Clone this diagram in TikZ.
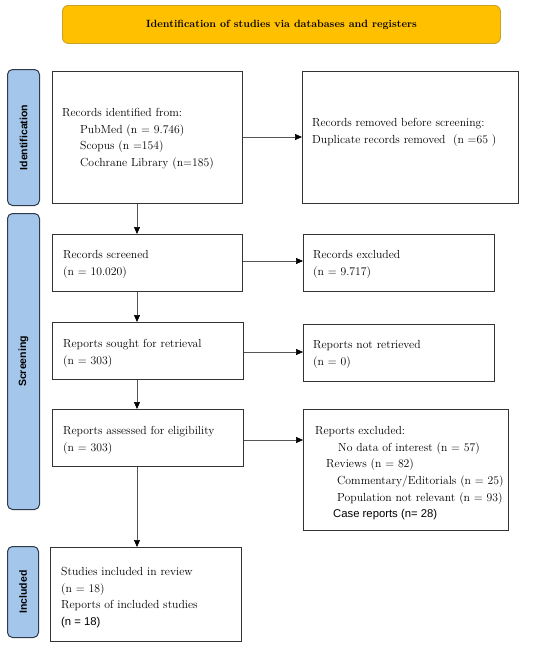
\documentclass[tikz,border=0pt]{standalone}
\usepackage{fontspec}
\newfontfamily\arialf{Liberation Sans}
\usetikzlibrary{arrows.meta}
\definecolor{bannerfill}{HTML}{FFC000}
\definecolor{bannerline}{HTML}{C9A227}
\definecolor{sidefill}{HTML}{A4C6EA}
\definecolor{sideline}{HTML}{2E3A4A}
\definecolor{boxline}{HTML}{333333}
\definecolor{arrowline}{HTML}{555555}
\tikzset{
  box/.style={draw=boxline, line width=0.9pt, anchor=north west, inner sep=0pt},
  side/.style={draw=sideline, fill=sidefill, line width=1pt, rounded corners=5pt, anchor=north west, inner sep=0pt},
  txt/.style={anchor=north west, inner sep=0pt, align=left, font=\fontsize{11.7}{16.7}\selectfont},
  sidetxt/.style={rotate=90, font=\arialf\bfseries\fontsize{10.5}{12}\selectfont},
  flow/.style={draw=arrowline, line width=0.7pt, -{Triangle[length=7pt,width=6pt,color=black]}}
}
\begin{document}
\begin{tikzpicture}[x=1pt,y=-1pt]
\useasboundingbox (0,0) rectangle (550,649);
% banner
\node[draw=bannerline, fill=bannerfill, line width=0.9pt, rounded corners=6pt, anchor=north west, minimum width=438pt, minimum height=38pt, inner sep=0pt, font=\bfseries\fontsize{10.5}{12}\selectfont] (banner) at (62,5) {Identification of studies via databases and registers};
% side labels
\node[side, minimum width=32pt, minimum height=136pt] (sideid) at (7,69) {};
\node[sidetxt] (sideidt) at (sideid.center) {Identification};
\node[side, minimum width=32pt, minimum height=296pt] (sidescr) at (7,213) {};
\node[sidetxt] (sidescrt) at (sidescr.center) {Screening};
\node[side, minimum width=31pt, minimum height=91pt] (sideinc) at (7,546) {};
\node[sidetxt] (sideinct) at (sideinc.center) {Included};
% boxes
\node[box, minimum width=190pt, minimum height=132pt] (ident) at (52,71) {};
\node[box, minimum width=216pt, minimum height=132pt] (removed) at (302,71) {};
\node[box, minimum width=190pt, minimum height=57pt] (screened) at (52,234) {};
\node[box, minimum width=191pt, minimum height=57pt] (excl1) at (303,234) {};
\node[box, minimum width=191pt, minimum height=57pt] (sought) at (52,322) {};
\node[box, minimum width=191pt, minimum height=57pt] (notret) at (303,324) {};
\node[box, minimum width=191pt, minimum height=57pt] (assessed) at (52,409) {};
\node[box, minimum width=205pt, minimum height=121pt] (excl2) at (303,409) {};
\node[box, minimum width=191pt, minimum height=94pt] (included) at (50,547) {};
% texts
\node[txt] (identt) at (62,108) {Records identified from:\\
\hspace*{18pt}PubMed (n = 9.746)\\
\hspace*{18pt}Scopus (n =154)\\
\hspace*{18pt}Cochrane Library (n=185)};
\node[txt] (removedt) at (312,118) {Records removed before screening:\\
Duplicate records removed\ \ (n =65 )};
\node[txt] (screenedt) at (63,250) {Records screened\\(n = 10.020)};
\node[txt] (excl1t) at (313,250) {Records excluded\\(n = 9.717)};
\node[txt] (soughtt) at (63,339) {Reports sought for retrieval\\(n = 303)};
\node[txt] (notrett) at (313,340) {Reports not retrieved\\(n = 0)};
\node[txt] (assessedt) at (63,426) {Reports assessed for eligibility\\(n = 303)};
\node[txt] (excl2t) at (315,426) {Reports excluded:\\
\hspace*{23pt}No data of interest (n = 57)\\
\hspace*{11pt}Reviews (n = 82)\\
\hspace*{22pt}Commentary/Editorials (n = 25)\\
\hspace*{22pt}Population not relevant (n = 93)\\
\hspace*{18pt}{\arialf\fontsize{11.3}{12}\selectfont Case reports (n= 28)}};
\node[txt] (includedt) at (61,567) {Studies included in review\\
(n = 18)\\
Reports of included studies\\
{\arialf\fontsize{11.3}{12}\selectfont (n = 18)}};
% arrows
\draw[flow] (ident.east |- 0,137) -- (removed.west |- 0,137);
\draw[flow] (ident.south -| 137,0) -- (screened.north -| 137,0);
\draw[flow] (screened.east |- 0,261) -- (excl1.west |- 0,261);
\draw[flow] (screened.south -| 137,0) -- (sought.north -| 137,0);
\draw[flow] (sought.east |- 0,352) -- (notret.west |- 0,352);
\draw[flow] (sought.south -| 137,0) -- (assessed.north -| 137,0);
\draw[flow] (assessed.east |- 0,440) -- (excl2.west |- 0,440);
\draw[flow] (assessed.south -| 137,0) -- (included.north -| 137,0);
\end{tikzpicture}
\end{document}
